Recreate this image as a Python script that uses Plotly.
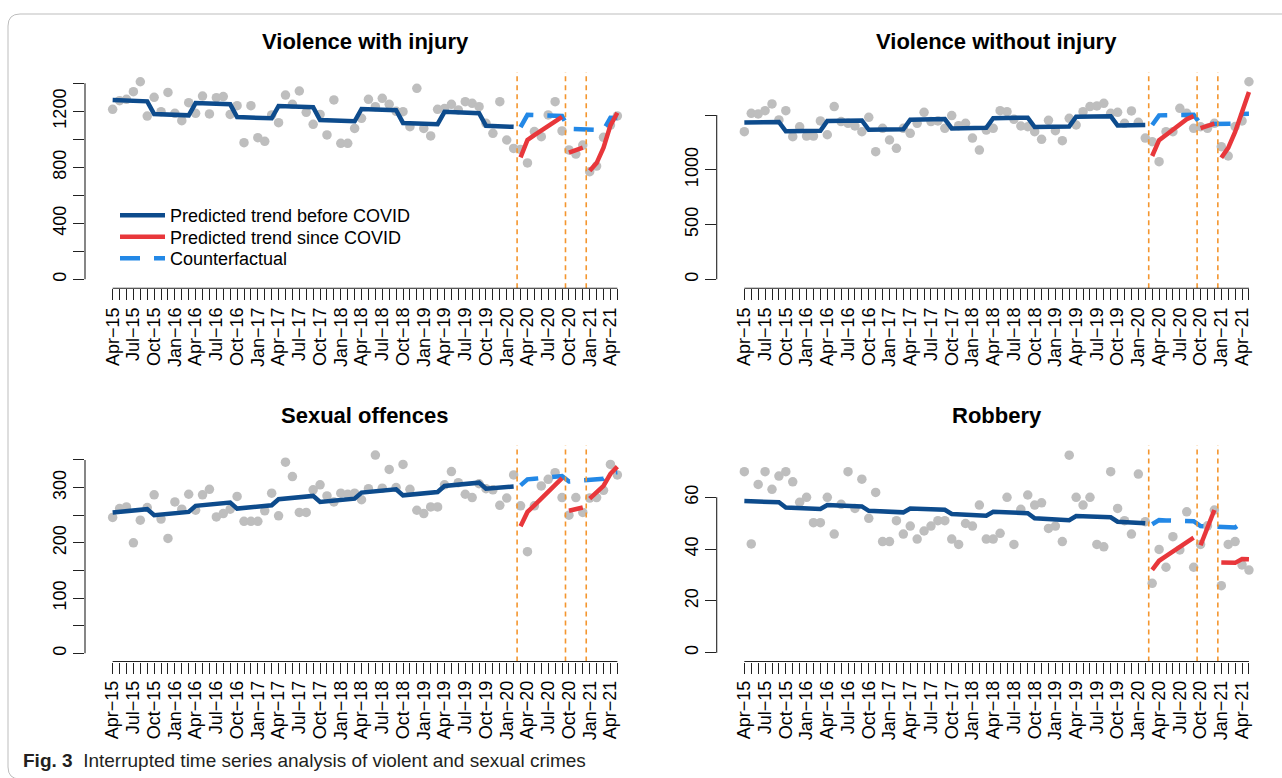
import plotly.graph_objects as go

# ---------------- data ----------------
n_months = 74  # Apr-15 .. May-21
tick_labels = ["Apr\u221215", "Jul\u221215", "Oct\u221215", "Jan\u221216", "Apr\u221216", "Jul\u221216",
               "Oct\u221216", "Jan\u221217", "Apr\u221217", "Jul\u221217", "Oct\u221217", "Jan\u221218",
               "Apr\u221218", "Jul\u221218", "Oct\u221218", "Jan\u221219", "Apr\u221219", "Jul\u221219",
               "Oct\u221219", "Jan\u221220", "Apr\u221220", "Jul\u221220", "Oct\u221220", "Jan\u221221",
               "Apr\u221221"]

# Violence with injury
inj_obs = [1214, 1276, 1286, 1340, 1411, 1166, 1300, 1197, 1335, 1186,
           1133, 1262, 1186, 1309, 1181, 1297, 1305, 1178, 1240, 976,
           1240, 1012, 986, 1174, 1119, 1316, 1250, 1345, 1193, 1107,
           1178, 1031, 1281, 971, 971, 1078, 1150, 1286, 1233, 1293,
           1250, 1200, 1197, 1090, 1364, 1078, 1024, 1214, 1220, 1250,
           1210, 1269, 1257, 1233, 1114, 1043, 1269, 995, 935, 928,
           831, 1055, 1019, 1174, 1269, 1060, 924, 895, 959, 769,
           809, 1014, 1102, 1167]
inj_before = [1280, 1278, 1276, 1275, 1273, 1271, 1180, 1178, 1176, 1175, 1173, 1171,
              1259, 1257, 1255, 1254, 1252, 1250, 1159, 1157, 1155, 1154, 1152, 1150,
              1238, 1236, 1234, 1233, 1231, 1229, 1138, 1136, 1134, 1133, 1131, 1129,
              1217, 1215, 1213, 1212, 1210, 1208, 1117, 1115, 1113, 1112, 1110, 1108,
              1196, 1194, 1192, 1191, 1189, 1187, 1096, 1094, 1092, 1091, 1089]
inj_counter = [1087, 1175, 1173, 1171, 1170, 1168, 1166, 1075, 1073, 1071, 1070, 1068, 1066, 1154, 1152]
inj_since_a = [871, 995, 1030, 1063, 1095, 1127, 1160]
inj_since_b = [905, 922, 940]
inj_since_c = [775, 830, 940, 1100, 1190]

# Violence without injury
noinj_obs = [1348, 1516, 1510, 1540, 1601, 1455, 1540, 1302, 1393, 1308,
             1308, 1446, 1320, 1577, 1440, 1424, 1400, 1348, 1479, 1165,
             1379, 1272, 1196, 1379, 1333, 1424, 1525, 1440, 1446, 1379,
             1495, 1403, 1424, 1290, 1180, 1363, 1379, 1540, 1531, 1461,
             1400, 1393, 1348, 1278, 1452, 1357, 1266, 1470, 1409, 1531,
             1577, 1583, 1607, 1516, 1525, 1424, 1537, 1434, 1290, 1257,
             1074, 1348, 1348, 1561, 1516, 1379, 1393, 1379, 1424, 1211,
             1126, 1395, 1446, 1804]
noinj_before = [1432, 1433, 1434, 1435, 1436, 1437, 1352, 1353, 1354, 1355, 1356, 1357,
                1445, 1446, 1447, 1448, 1449, 1450, 1365, 1366, 1367, 1368, 1369, 1370,
                1458, 1459, 1460, 1461, 1462, 1463, 1378, 1379, 1380, 1381, 1382, 1383,
                1471, 1472, 1473, 1474, 1475, 1476, 1391, 1392, 1393, 1394, 1395, 1396,
                1484, 1485, 1486, 1487, 1488, 1489, 1404, 1405, 1406, 1407, 1408]
noinj_counter = [1409, 1497, 1498, 1499, 1500, 1501, 1502, 1417, 1418, 1419, 1420, 1421, 1422, 1510, 1511]
noinj_since_a = [1126, 1270, 1318, 1365, 1413, 1461, 1490]
noinj_since_b = [1380, 1400, 1422]
noinj_since_c = [1110, 1200, 1345, 1530, 1710]

# Sexual offences
sex_obs = [246, 262, 265, 200, 241, 264, 287, 243, 208, 274,
           261, 288, 259, 287, 297, 247, 253, 261, 284, 239,
           239, 239, 258, 290, 249, 346, 320, 255, 255, 296,
           305, 285, 274, 290, 288, 290, 278, 298, 359, 299,
           333, 300, 342, 297, 259, 253, 265, 265, 305, 329,
           309, 288, 282, 307, 298, 296, 268, 281, 323, 267,
           184, 267, 303, 315, 327, 282, 250, 282, 255, 281,
           282, 295, 342, 323]
sex_before = [255, 256, 257, 258, 259, 261, 250, 251, 252, 253, 254, 256,
              267, 268, 269, 270, 271, 273, 262, 263, 264, 265, 266, 268,
              279, 280, 281, 282, 283, 285, 274, 275, 276, 277, 278, 280,
              291, 292, 293, 294, 295, 297, 286, 287, 288, 289, 290, 292,
              303, 304, 305, 306, 307, 309, 298, 299, 300, 301, 302]
sex_counter = [304, 315, 316, 317, 318, 319, 321, 311, 312, 313, 314, 315, 316, 327, 328]
sex_since_a = [230, 256, 268, 280, 292, 304, 317]
sex_since_b = [258, 261, 264]
sex_since_c = [280, 291, 303, 325, 338]

# Robbery
rob_obs = [69.9, 42, 65, 69.9, 63.1, 68.2, 69.9, 66, 58.1, 60,
           50.2, 50.2, 60, 45.8, 57.3, 69.9, 55.7, 67, 51.9, 61.9,
           42.9, 42.9, 51, 45.8, 48.9, 43.9, 47, 48.9, 51, 51,
           43.9, 41.8, 49.9, 48.9, 57, 43.9, 43.9, 46.1, 60, 41.8,
           55.4, 60.9, 57, 57.9, 48, 48.9, 42.9, 76.3, 60, 57,
           60, 41.8, 40.9, 69.9, 55.7, 51, 45.8, 69, 50.6, 26.8,
           39.9, 33, 44.8, 39.7, 54.4, 33, 41.8, 49, 55.1, 25.9,
           41.8, 42.9, 33.9, 31.9]
rob_before = [58.6, 58.5, 58.4, 58.3, 58.2, 58.1, 56.1, 56.0, 55.9, 55.8, 55.7, 55.5,
              57.0, 56.9, 56.8, 56.7, 56.6, 56.5, 54.8, 54.7, 54.6, 54.5, 54.3, 54.2,
              55.7, 55.6, 55.5, 55.4, 55.3, 55.2, 53.6, 53.5, 53.3, 53.2, 53.1, 52.9,
              54.4, 54.3, 54.2, 54.1, 54.0, 53.9, 51.9, 51.8, 51.6, 51.5, 51.4, 51.2,
              52.8, 52.7, 52.6, 52.5, 52.4, 52.3, 50.6, 50.5, 50.3, 50.2, 50.0]
rob_counter = [49.6, 51.2, 51.1, 51.0, 51.0, 50.9, 50.8, 48.9, 48.8, 48.7, 48.6, 48.5, 48.4, 50.2, 50.1]
rob_since_a = [32, 35.5, 37.3, 39.1, 40.9, 42.7, 44.4]
rob_since_b = [41.5, 48.3, 55.1]
rob_since_c = [34.8, 34.7, 34.7, 36.2, 36.1]

titles = ["Violence with injury", "Violence without injury", "Sexual offences", "Robbery"]
legend_names = ["Predicted trend before COVID", "Predicted trend since COVID", "Counterfactual"]
y_tickvals = [[0, 200, 400, 600, 800, 1000, 1200, 1400],
              [0, 500, 1000, 1500],
              [0, 50, 100, 150, 200, 250, 300, 350],
              [0, 20, 40, 60]]
y_ticktext = [["0", "", "400", "", "800", "", "1200", ""],
              ["0", "500", "1000", ""],
              ["0", "", "100", "", "200", "", "300", ""],
              ["0", "20", "40", "60"]]
y_ranges = [[-64, 1480], [-82, 1892], [-14.8, 376.6], [-3.4, 80.1]]

# ---------------- style ----------------
W, H = 1282, 778
FONT = "Liberation Sans, Arial, Helvetica, sans-serif"
C_PTS = "#BEBEBE"
C_BEFORE = "#0D4B8C"
C_SINCE = "#E8373B"
C_CF = "#2388E6"
C_BREAK = "#F4962F"

x_dom = [[85 / W, 645 / W], [716.7 / W, 1276.6 / W]]
y_dom = [[1 - 288.3 / H, 1 - 72.1 / H], [1 - 661.5 / H, 1 - 445.3 / H]]

panels = [
    (inj_obs, inj_before, inj_counter, inj_since_a, inj_since_b, inj_since_c),
    (noinj_obs, noinj_before, noinj_counter, noinj_since_a, noinj_since_b, noinj_since_c),
    (sex_obs, sex_before, sex_counter, sex_since_a, sex_since_b, sex_since_c),
    (rob_obs, rob_before, rob_counter, rob_since_a, rob_since_b, rob_since_c),
]

months = list(range(n_months))
x_ticktext = [tick_labels[i // 3] if i % 3 == 0 else "" for i in months]

fig = go.Figure()
shapes = []
annotations = []

for k, (obs, before, counter, sa, sb, sc) in enumerate(panels):
    ax = "" if k == 0 else str(k + 1)
    xa, ya = "x" + ax, "y" + ax
    first = (k == 0)
    start_a = len(before)
    start_b = start_a + len(sa)
    start_c = start_b + len(sb)

    fig.add_trace(go.Scatter(x=months, y=obs, mode="markers", xaxis=xa, yaxis=ya,
                             marker=dict(color=C_PTS, size=9.5, line=dict(width=0)),
                             showlegend=False, cliponaxis=False, hoverinfo="skip"))
    fig.add_trace(go.Scatter(x=months[:start_a], y=before, mode="lines", xaxis=xa, yaxis=ya,
                             line=dict(color=C_BEFORE, width=4.5),
                             name=legend_names[0], legend="legend",
                             showlegend=first, cliponaxis=False))
    fig.add_trace(go.Scatter(x=months[start_a:start_a + len(counter)], y=counter, mode="lines",
                             xaxis=xa, yaxis=ya,
                             line=dict(color=C_CF, width=4.5, dash="20px,14px"),
                             name=legend_names[2], legend="legend3",
                             showlegend=first, cliponaxis=False))
    for j, (s0, seg) in enumerate([(start_a, sa), (start_b, sb), (start_c, sc)]):
        fig.add_trace(go.Scatter(x=months[s0:s0 + len(seg)], y=seg, mode="lines",
                                 xaxis=xa, yaxis=ya,
                                 line=dict(color=C_SINCE, width=4.5),
                                 name=legend_names[1], legend="legend2",
                                 showlegend=first and j == 0, cliponaxis=False))

    # intervention breaks (between segments)
    for b in [start_a - 0.5, start_b - 0.5, start_c - 0.5]:
        shapes.append(dict(type="line", xref=xa, yref=ya + " domain", x0=b, x1=b, y0=0, y1=1,
                           line=dict(color=C_BREAK, width=1.6, dash="5px,4px")))
    # R-style axis lines spanning tick range only
    shapes.append(dict(type="line", xref=xa, yref=ya + " domain", x0=months[0], x1=months[-1],
                       y0=0, y1=0, line=dict(color="#222", width=1.1)))
    shapes.append(dict(type="line", xref=xa + " domain", yref=ya, x0=0, x1=0,
                       y0=y_tickvals[k][0], y1=y_tickvals[k][-1], line=dict(color="#222", width=1.1)))

    annotations.append(dict(text="<b>%s</b>" % titles[k], xref=xa + " domain", x=0.5,
                            yref="paper", y=1 - (42 if k < 2 else 416) / H,
                            xanchor="center", yanchor="middle", showarrow=False,
                            font=dict(family=FONT, size=22, color="#000")))

    common_tick = dict(ticks="outside", ticklen=11, tickwidth=1.1, tickcolor="#222",
                       showgrid=False, zeroline=False, showline=False,
                       tickfont=dict(family=FONT, size=18, color="#000"))
    fig.layout["xaxis" + ax] = dict(domain=x_dom[k % 2], range=[-4, 77], anchor=ya,
                                    tickmode="array", tickvals=months, ticktext=x_ticktext,
                                    tickangle=-90, **common_tick)
    fig.layout["yaxis" + ax] = dict(domain=y_dom[k // 2], range=y_ranges[k], anchor=xa,
                                    tickmode="array", tickvals=y_tickvals[k], ticktext=y_ticktext[k],
                                    tickangle=-90, **common_tick)

# caption
annotations.append(dict(text="<b>Fig. 3</b>\u00a0\u00a0Interrupted time series analysis of violent and sexual crimes",
                        xref="paper", yref="paper", x=21 / W, y=1 - 760 / H,
                        xanchor="left", yanchor="middle", showarrow=False,
                        font=dict(family=FONT, size=19, color="#231F20")))

# rounded frame of the figure page
xl, yt, yb, r = 8 / W, 1 - 14 / H, 1 + 1 / H - 780 / H, 12
rx, ry = r / W, r / H
shapes.append(dict(type="path", xref="paper", yref="paper",
                   path=(f"M 1.01,{yt} L {xl + rx},{yt} Q {xl},{yt} {xl},{yt - ry} "
                         f"L {xl},{yb + ry} Q {xl},{yb} {xl + rx},{yb} L 1.01,{yb}"),
                   line=dict(color="#BDBDBD", width=1)))

legend_common = dict(x=115 / W, xanchor="left", yanchor="middle",
                     bgcolor="rgba(0,0,0,0)", borderwidth=0, itemwidth=45,
                     font=dict(family=FONT, size=18, color="#000"))

fig.update_layout(
    width=W, height=H, margin=dict(l=0, r=0, t=0, b=0),
    paper_bgcolor="white", plot_bgcolor="white",
    shapes=shapes, annotations=annotations,
    legend=dict(y=1 - 215.5 / H, **legend_common),
    legend2=dict(y=1 - 237 / H, **legend_common),
    legend3=dict(y=1 - 258.5 / H, **legend_common),
    font=dict(family=FONT),
)

fig.write_html("out.html", config={"displayModeBar": False},
               post_script="document.body.style.margin='0';document.body.style.overflow='hidden';")
